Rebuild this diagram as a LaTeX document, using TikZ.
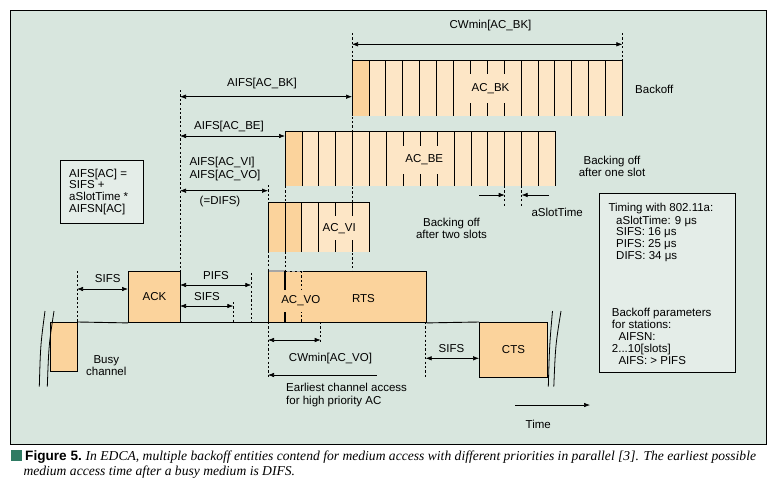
\documentclass[tikz,border=0pt]{standalone}
\usepackage{fontspec}
\setmainfont{Liberation Sans}
\newfontfamily\capserif{Liberation Serif}
\usetikzlibrary{arrows.meta}
\definecolor{bg}{HTML}{D8E6DE}
\definecolor{boxbg}{HTML}{E4EDE8}
\definecolor{dkor}{HTML}{FBD39C}
\definecolor{ltor}{HTML}{FDE6C6}
\definecolor{capgreen}{HTML}{2F7B63}
\begin{document}
\begin{tikzpicture}[x=1pt, y=-1pt, font=\fontsize{11.5}{12}\selectfont,
  >={Latex[length=6pt,width=4.5pt]},
  dim/.style={<->, line width=0.6pt},
  onearr/.style={->, line width=0.6pt},
  dsh/.style={line width=0.6pt, dash pattern=on 2.2pt off 2.2pt},
  pkt/.style={draw, fill=dkor, line width=0.9pt, inner sep=0pt, anchor=north west},
  lbl/.style={inner sep=0.5pt},
  ln/.style={anchor=base west, inner sep=0pt},
  slotl/.style={line width=0.7pt},
  edge/.style={line width=0.9pt},
  infobox/.style={draw, fill=boxbg, line width=0.8pt, anchor=north west, inner sep=0pt},
]
\useasboundingbox (0,0) rectangle (775,482);
\def\s{16.9}
% frame
\node[draw, fill=bg, line width=0.8pt, anchor=north west, inner sep=0pt,
      minimum width=756, minimum height=434] (frame) at (10,10) {};

% dashed guide lines
\draw[dsh] (180,90) -- (180,271);
\draw[dsh] (352,33) -- (352,271);
\draw[dsh] (622.4,33) -- (622.4,60);
\draw[dsh] (285,186) -- (285,271);
\draw[dsh] (268,185) -- (268,271);
\draw[dsh] (268,322) -- (268,378);
\draw[dsh] (77,271) -- (77,322);
\draw[dsh] (251.3,273) -- (251.3,322);
\draw[dsh] (233.3,302) -- (233.3,322);
\draw[dsh] (320.7,322) -- (320.7,342);
\draw[dsh] (425.7,322) -- (425.7,378);
\draw[dsh] (504.7,186) -- (504.7,207);
\draw[dsh] (521.6,186) -- (521.6,207);

% AC_BK slots
\fill[ltor] (352,60) rectangle (622.4,116);
\fill[dkor] (352,60) rectangle (368.9,116);
\foreach \i in {1,...,15} \draw[slotl] ({352+\i*\s},60) -- ({352+\i*\s},116);
\draw[edge] (352,116) -- (352,60) -- (622.4,60) -- (622.4,116);
\node[fill=ltor, inner xsep=2pt, inner ysep=9pt] (bk) at (490.5,88.5) {AC\_BK};

% AC_BE slots
\fill[ltor] (285,131) rectangle (555.4,186);
\fill[dkor] (285,131) rectangle (301.9,186);
\foreach \i in {1,...,15} \draw[slotl] ({285+\i*\s},131) -- ({285+\i*\s},186);
\draw[edge] (285,186) -- (285,131) -- (555.4,131) -- (555.4,186);
\node[fill=ltor, inner xsep=2pt, inner ysep=9pt] (be) at (424.3,160) {AC\_BE};

% AC_VI slots
\fill[ltor] (268,202) rectangle (369.4,252);
\fill[dkor] (268,202) rectangle (301.8,252);
\foreach \i in {1,...,5} \draw[slotl] ({268+\i*\s},202) -- ({268+\i*\s},252);
\draw[edge] (268,252) -- (268,202) -- (369.4,202) -- (369.4,252);
\node[fill=ltor, inner xsep=2pt, inner ysep=7pt] (vi) at (339.2,228.3) {AC\_VI};

% timeline and frames
\node[pkt, minimum width=27, minimum height=49] (busy) at (50,322) {};
\node[pkt, minimum width=52, minimum height=51] (ack) at (128,271) {ACK};
\node[pkt, minimum width=157.7, minimum height=51] (rts) at (268,271) {};
\node[pkt, minimum width=68, minimum height=55] (cts) at (479,322) {CTS};
\draw[edge] (busy.north east) -- (ack.south west);
\draw[edge] (ack.south east) -- (rts.south west);
\draw[edge] (rts.south east) -- (cts.north west);
\draw[gray!70, line width=1.4pt] (268.5,271) -- (284.9,271);
\draw[gray!70, line width=0.8pt, dash pattern=on 3pt off 2pt] (286.5,271) -- (301.8,271);
\draw[line width=1.3pt] (284.9,271) -- (284.9,322);
\draw[dsh, line width=0.7pt] (301.8,271) -- (301.8,322);
\node[fill=dkor, inner xsep=1pt, inner ysep=6pt] (vo) at (300.8,301) {AC\_VO};
\node[lbl] (rtsl) at (363.5,299) {RTS};

% break marks
\draw[line width=0.8pt] (39.3,386.7) .. controls (40.5,345) .. (45,311);
\draw[line width=0.8pt] (47.3,386.7) .. controls (48.8,345) .. (54,311);
\draw[line width=0.8pt] (548.3,386.7) .. controls (549.5,345) .. (552.5,311);
\draw[line width=0.8pt] (553.8,386.7) .. controls (555.5,345) .. (561,311);

% dimension arrows
\coordinate (cwbkA) at (352,44.3);   \coordinate (cwbkB) at (622.4,44.3);
\draw[dim] (cwbkA) -- (cwbkB);
\node[lbl] (cwbk) at (490.5,25.5) {CWmin[AC\_BK]};

\coordinate (aibkA) at (180,96.7);   \coordinate (aibkB) at (352,96.7);
\draw[dim] (aibkA) -- (aibkB);
\node[lbl] (aibk) at (262,83.5) {AIFS[AC\_BK]};

\coordinate (aibeA) at (180,136);    \coordinate (aibeB) at (285,136);
\draw[dim] (aibeA) -- (aibeB);
\node[lbl] (aibe) at (229,126.5) {AIFS[AC\_BE]};

\coordinate (difsA) at (180,190.7);  \coordinate (difsB) at (268,190.7);
\draw[dim] (difsA) -- (difsB);
\node[ln] (aivi) at (189.3,165.7) {AIFS[AC\_VI]};
\node[ln] (aivo) at (189.3,178) {AIFS[AC\_VO]};
\node[lbl] (difs) at (220,201.5) {(=DIFS)};

\coordinate (sifsaA) at (77,289);    \coordinate (sifsaB) at (128,289);
\draw[dim] (sifsaA) -- (sifsaB);
\node[lbl] (sifsa) at (107.7,279) {SIFS};

\coordinate (pifsA) at (180,285);    \coordinate (pifsB) at (251.3,285);
\draw[dim] (pifsA) -- (pifsB);
\node[lbl] (pifs) at (216,275.7) {PIFS};

\coordinate (sifsbA) at (180,306);   \coordinate (sifsbB) at (233.3,306);
\draw[dim] (sifsbA) -- (sifsbB);
\node[lbl] (sifsb) at (207,296.7) {SIFS};

\coordinate (cwvoA) at (268,340);    \coordinate (cwvoB) at (320.7,340);
\draw[dim] (cwvoA) -- (cwvoB);
\node[lbl] (cwvo) at (330.5,358.3) {CWmin[AC\_VO]};

\coordinate (earlyA) at (376.7,375); \coordinate (earlyB) at (268,375);
\draw[onearr] (earlyA) -- (earlyB);
\node[ln] (early1) at (286,391.7) {Earliest channel access};
\node[ln] (early2) at (286,404) {for high priority AC};

\coordinate (sifscA) at (425.7,358.3); \coordinate (sifscB) at (479,358.3);
\draw[dim] (sifscA) -- (sifscB);
\node[lbl] (sifsc) at (451.5,348.7) {SIFS};

\coordinate (timeA) at (515,405);    \coordinate (timeB) at (590,405);
\draw[onearr] (timeA) -- (timeB);
\node[lbl] (timel) at (538.3,424) {Time};

\coordinate (slotA) at (479,195);    \coordinate (slotB) at (504.7,195);
\coordinate (slotC) at (549,195);    \coordinate (slotD) at (521.6,195);
\draw[onearr] (slotA) -- (slotB);
\draw[onearr] (slotC) -- (slotD);
\node[lbl] (aslot) at (557.2,212) {aSlotTime};

% side labels
\node[ln] (backoff) at (635,93) {Backoff};
\node[lbl, align=center] (bo1) at (612,166.5) {Backing off\\after one slot};
\node[lbl, align=center] (bo2) at (451.5,228.5) {Backing off\\after two slots};
\node[lbl, align=center] (busyl) at (106.3,366) {Busy\\channel};

% AIFS formula box
\node[infobox, minimum width=82.7, minimum height=63] (formula) at (60,160.3) {};
\node[ln] (f1) at (69,177) {AIFS[AC] =};
\node[ln] (f2) at (69,188.5) {SIFS +};
\node[ln] (f3) at (69,200.5) {aSlotTime *};
\node[ln] (f4) at (69,212.5) {AIFSN[AC]};

% timing box
\node[infobox, minimum width=135.7, minimum height=179] (timing) at (599.3,193.3) {};
\node[ln] (t1) at (608.3,211.3) {Timing with 802.11a:};
\node[ln] (t2) at (616,224) {aSlotTime: 9 μs};
\node[ln] (t3) at (616,235.7) {SIFS: 16 μs};
\node[ln] (t4) at (616,247.3) {PIFS: 25 μs};
\node[ln] (t5) at (616,259) {DIFS: 34 μs};
\node[ln] (t6) at (611.7,316.7) {Backoff parameters};
\node[ln] (t7) at (611.7,328) {for stations:};
\node[ln] (t8) at (618.3,340) {AIFSN:};
\node[ln] (t9) at (611.7,352.3) {2...10[slots]};
\node[ln] (t10) at (618.3,364) {AIFS: > PIFS};

% caption
\node[fill=capgreen, minimum size=11, inner sep=0pt, anchor=north west] (sq) at (11,449.5) {};
\node[ln] (cap1) at (25,460.5) {\fontsize{13.6}{15}\selectfont\bfseries Figure 5.\ \mdseries\capserif\itshape In EDCA, multiple backoff entities contend for medium access with different priorities in parallel [3]. The earliest possible};
\node[ln] (cap2) at (23.3,475) {\fontsize{13.6}{15}\selectfont\capserif\itshape medium access time after a busy medium is DIFS.};
\end{tikzpicture}
\end{document}
